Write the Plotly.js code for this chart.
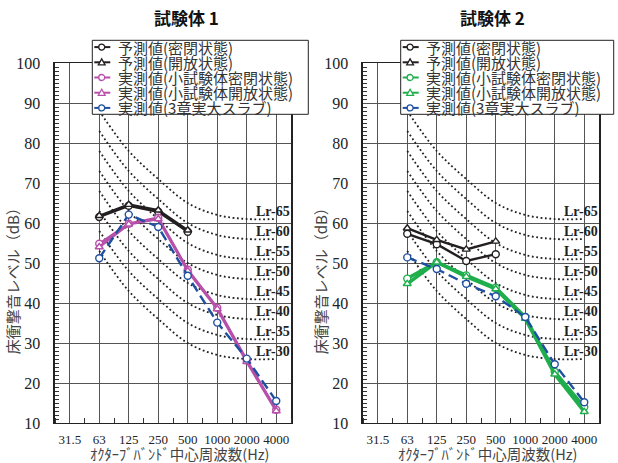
<!DOCTYPE html>
<html>
<head>
<meta charset="utf-8">
<script src="https://cdn.plot.ly/plotly-3.0.1.min.js"></script>
<style>html,body{margin:0;padding:0;background:#fff;}#chart{width:618px;height:463px;}</style>
</head>
<body>
<div id="chart"></div>
<script>
// ---- data ----
const categories = ['31.5', '63', '125', '250', '500', '1000', '2000', '4000'];
const measFreqs = ['63', '125', '250', '500', '1000', '2000', '4000'];
const predFreqs = ['63', '125', '250', '500'];

// 試験体1
const L_predClosed = [61.5, 64.3, 62.8, 57.8];
const L_predOpen   = [61.8, 64.6, 63.2, 58.2];
const L_measClosed = [54.8, 59.8, 61.3, 48.3, 38.8, 25.7, 13.3];
const L_measOpen   = [54.0, 59.7, 61.0, 48.0, 38.5, 25.3, 13.0];
const L_slab       = [51.2, 62.1, 59.0, 46.8, 35.1, 26.1, 15.5];

// 試験体2
const R_predClosed = [57.3, 54.7, 50.5, 52.2];
const R_predOpen   = [58.7, 55.8, 53.4, 55.4];
const R_measClosed = [46.1, 50.2, 46.9, 43.8, 36.5, 22.8, 14.0];
const R_measOpen   = [44.8, 50.2, 46.6, 43.5, 36.1, 22.2, 12.8];
const R_slab       = [51.4, 48.5, 44.8, 41.7, 36.5, 24.7, 15.2];

// Lr rating curves (relative to 500 Hz)
const lrLevels = [65, 60, 55, 50, 45, 40, 35, 30];
const lrOffsets = [23, 13, 6, 0, -3, -4, -4];

const legendNames = ['予測値(密閉状態)', '予測値(開放状態)', '実測値(小試験体密閉状態)', '実測値(小試験体開放状態)', '実測値(3章実大スラブ)'];
const panelTitles = ['試験体 1', '試験体 2'];
const yTitle = '床衝撃音レベル（dB）';
const xTitle = 'ｵｸﾀｰﾌﾞﾊﾞﾝﾄﾞ中心周波数(Hz)';

// ---- styles ----
const BLACK = '#231f20';
const MAGENTA = '#b650aa';
const GREEN = '#1fae4c';
const BLUE = '#1f4fa0';
const JP = '"Noto Sans CJK JP", "Noto Sans", sans-serif';
const SERIF = '"Liberation Serif", "DejaVu Serif", serif';

const idx = f => categories.indexOf(f);

// pixel -> paper helpers
const ML = 55, MR = 19, MT = 62.7, MB = 40.3, W = 618, H = 463;
const PW = W - ML - MR, PH = H - MT - MB;
const px2x = px => (px - ML) / PW;
const py2y = py => (H - MB - py) / PH;

const traces = [];
function addPanel(ax, measColor, predC, predO, measC, measO, slab) {
  const xa = ax === 1 ? 'x' : 'x2', ya = ax === 1 ? 'y' : 'y2';
  lrLevels.forEach(lv => {
    traces.push({
      x: measFreqs.map(idx), y: lrOffsets.map(o => lv + o), xaxis: xa, yaxis: ya,
      mode: 'lines', line: {color: '#222', width: 1.8, dash: '1.8px,2.6px', shape: 'spline'},
      hoverinfo: 'skip', showlegend: false
    });
  });
  const mk = (sym, col) => ({symbol: sym, size: 7, color: '#fff', line: {color: col, width: 1.4}});
  traces.push({x: predFreqs.map(idx), y: predC, xaxis: xa, yaxis: ya, mode: 'lines+markers',
    line: {color: BLACK, width: 2.4}, marker: mk('circle', BLACK), showlegend: false});
  traces.push({x: predFreqs.map(idx), y: predO, xaxis: xa, yaxis: ya, mode: 'lines+markers',
    line: {color: BLACK, width: 2.4}, marker: mk('triangle-up', BLACK), showlegend: false});
  const w = ax === 1 ? 2.6 : 3.4;
  traces.push({x: measFreqs.map(idx), y: measC, xaxis: xa, yaxis: ya, mode: 'lines+markers',
    line: {color: measColor, width: w}, marker: mk('circle', measColor), showlegend: false});
  traces.push({x: measFreqs.map(idx), y: measO, xaxis: xa, yaxis: ya, mode: 'lines+markers',
    line: {color: measColor, width: w}, marker: mk('triangle-up', measColor), showlegend: false});
  traces.push({x: measFreqs.map(idx), y: slab, xaxis: xa, yaxis: ya, mode: 'lines+markers',
    line: {color: BLUE, width: 2.4, dash: '10px,5px'}, marker: mk('circle', BLUE), showlegend: false});
}
addPanel(1, MAGENTA, L_predClosed, L_predOpen, L_measClosed, L_measOpen, L_slab);
addPanel(2, GREEN, R_predClosed, R_predOpen, R_measClosed, R_measOpen, R_slab);

const shapes = [];
const annotations = [];

function addLegend(x0, boxW, measColor) {
  shapes.push({type: 'rect', xref: 'paper', yref: 'paper', x0: px2x(x0), x1: px2x(x0 + boxW), y0: py2y(114), y1: py2y(40),
    fillcolor: '#fff', line: {color: '#222', width: 1}, layer: 'above'});
  const cols = [BLACK, BLACK, measColor, measColor, BLUE];
  const syms = ['c', 't', 'c', 't', 'c'];
  legendNames.forEach((nm, i) => {
    const cy = 46.8 + i * 15.2;
    const cx = x0 + 9.4;
    shapes.push({type: 'line', xref: 'paper', yref: 'paper', x0: px2x(x0 + 2), x1: px2x(x0 + 18), y0: py2y(cy), y1: py2y(cy),
      line: {color: cols[i], width: 2}, layer: 'above'});
    if (syms[i] === 'c') {
      shapes.push({type: 'circle', xref: 'paper', yref: 'paper', x0: px2x(cx - 3), x1: px2x(cx + 3), y0: py2y(cy + 3), y1: py2y(cy - 3),
        fillcolor: '#fff', line: {color: cols[i], width: 1.3}, layer: 'above'});
    } else {
      const p = `M ${px2x(cx - 3.4)},${py2y(cy + 2.6)} L ${px2x(cx + 3.4)},${py2y(cy + 2.6)} L ${px2x(cx)},${py2y(cy - 3.4)} Z`;
      shapes.push({type: 'path', xref: 'paper', yref: 'paper', path: p,
        fillcolor: '#fff', line: {color: cols[i], width: 1.3}, layer: 'above'});
    }
    annotations.push({xref: 'paper', yref: 'paper', x: px2x(x0 + 24.4), y: py2y(cy), xanchor: 'left', yanchor: 'middle',
      text: nm, showarrow: false, borderpad: 0, font: {family: JP, size: 15, color: '#333'}});
  });
}
addLegend(92.3, 216, MAGENTA);
addLegend(400.7, 213, GREEN);

// Lr labels
['x', 'x2'].forEach((xa, k) => {
  lrLevels.forEach(lv => {
    annotations.push({xref: xa, yref: k === 0 ? 'y' : 'y2', x: 7.5, y: lv - 2.2, xanchor: 'right', yanchor: 'middle',
      text: 'Lr-' + lv, showarrow: false, borderpad: 0, font: {family: SERIF, size: 14, color: '#222', weight: 'bold'}});
  });
});

// titles and axis titles
[[186, 0], [492, 1]].forEach(([cx, k]) => {
  annotations.push({xref: 'paper', yref: 'paper', x: px2x(cx), y: py2y(17.5), xanchor: 'center', yanchor: 'middle',
    text: '<b>' + panelTitles[k] + '</b>', showarrow: false, font: {family: JP, size: 17, color: '#111'}});
});
[[12, 180], [320, 488]].forEach(([yx, xc]) => {
  annotations.push({xref: 'paper', yref: 'paper', x: px2x(yx), y: py2y(277), xanchor: 'center', yanchor: 'middle',
    text: yTitle, textangle: -90, showarrow: false, font: {family: JP, size: 15, color: '#444'}});
  annotations.push({xref: 'paper', yref: 'paper', x: px2x(xc), y: py2y(453), xanchor: 'center', yanchor: 'middle',
    text: xTitle, showarrow: false, borderpad: 0, font: {family: JP, size: 14.5, color: '#444'}});
});

const xaxisBase = {
  range: [-0.5, 7.5], tickmode: 'array', tickvals: categories.map((c, i) => i), ticktext: categories,
  tickangle: 0,
  showgrid: true, gridcolor: '#555', gridwidth: 1, zeroline: false,
  showline: true, linecolor: '#222', linewidth: 1.4, mirror: true, ticks: '',
  ticklabelstandoff: 4,
  tickfont: {family: SERIF, size: 13, color: '#222'},
  minor: {tick0: 0.5, dtick: 1, ticks: 'inside', ticklen: 5, tickcolor: '#333', tickwidth: 1, showgrid: false}
};
const yaxisBase = {
  range: [10, 100], tickmode: 'linear', tick0: 10, dtick: 10,
  showgrid: true, gridcolor: '#555', gridwidth: 1, zeroline: false,
  showline: true, linecolor: '#222', linewidth: 1.6, mirror: true, ticks: '',
  ticklabelstandoff: 10,
  tickfont: {family: SERIF, size: 16, color: '#222'},
  minor: {dtick: 1, ticks: 'inside', ticklen: 4, tickcolor: '#333', tickwidth: 1, showgrid: false}
};

const d1 = [0, px2x(291)], d2 = [px2x(363), 1];
const layout = {
  width: W, height: H, margin: {l: ML, r: MR, t: MT, b: MB},
  paper_bgcolor: '#fff', plot_bgcolor: '#fff', showlegend: false,
  xaxis: Object.assign({}, xaxisBase, {domain: d1, anchor: 'y'}),
  yaxis: Object.assign({}, yaxisBase, {domain: [0, 1], anchor: 'x'}),
  xaxis2: Object.assign({}, xaxisBase, {domain: d2, anchor: 'y2'}),
  yaxis2: Object.assign({}, yaxisBase, {domain: [0, 1], anchor: 'x2'}),
  shapes: shapes, annotations: annotations
};
Plotly.newPlot('chart', traces, layout, {staticPlot: true, displayModeBar: false});
</script>
</body>
</html>
